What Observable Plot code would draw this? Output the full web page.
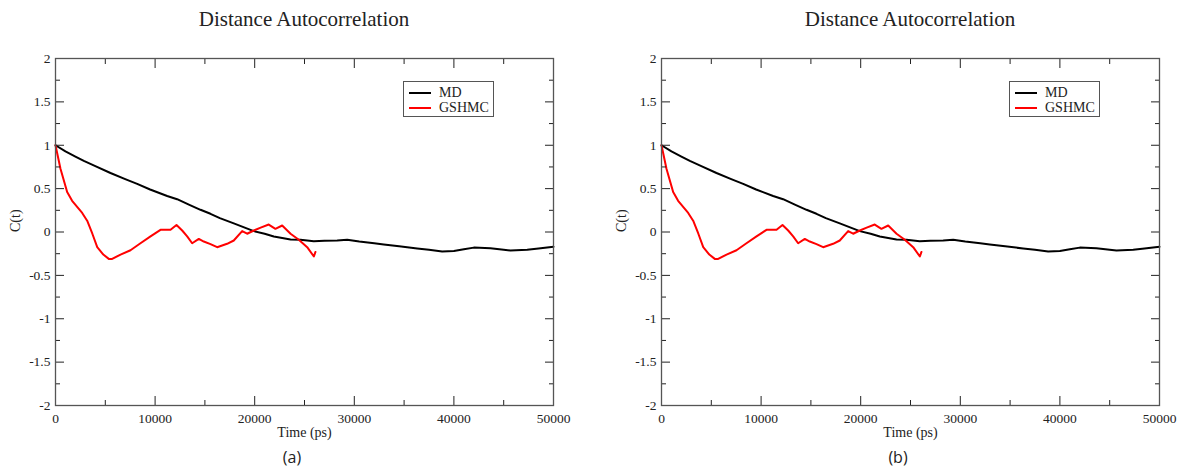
<!DOCTYPE html>
<html>
<head>
<meta charset="utf-8">
<script src="https://cdn.jsdelivr.net/npm/d3@7"></script>
<script src="https://cdn.jsdelivr.net/npm/@observablehq/plot@0.6"></script>
<style>
  html, body { margin: 0; padding: 0; background: #fff; }
  #root { position: relative; width: 1178px; height: 468px; overflow: hidden; }
  #root svg, #root svg text { font-family: "Liberation Serif", serif !important; }
  .title { position: absolute; width: 400px; text-align: center; font-family: "Liberation Serif", serif; font-size: 21px; line-height: 1; color: #222; }
  .panel { position: absolute; top: 40px; }
  .sub { position: absolute; width: 60px; text-align: center; font-family: "Open Sans", sans-serif; font-size: 16px; line-height: 1; color: #222; }
  .legend { position: absolute; box-sizing: border-box; width: 91px; height: 36px; border: 1px solid #555; background: #fff; font-family: "Liberation Serif", serif; font-size: 14px; color: #222; }
  .legend .sw { position: absolute; left: 5px; width: 22px; height: 2px; }
  .legend .lb { position: absolute; left: 35px; line-height: 1; }
</style>
</head>
<body>
<div id="root"></div>
<script>
// ---- data ----
const mdTime = [0, 1000, 2000, 2845, 4000, 5520, 7000, 8200, 9500, 11210, 12210, 13500, 14560, 15560, 16500, 17900, 19000, 19910, 21000, 21920, 23600, 24600, 25930, 27000, 28280, 29290, 30500, 32000, 32960, 34500, 36310, 37500, 38820, 40000, 41000, 42000, 43670, 45000, 45680, 47360, 48500, 50000];
const mdValue = [1.0, 0.93, 0.87, 0.82, 0.76, 0.68, 0.61, 0.555, 0.49, 0.415, 0.378, 0.31, 0.256, 0.21, 0.16, 0.10, 0.05, 0.01, -0.02, -0.052, -0.086, -0.09, -0.106, -0.10, -0.098, -0.09, -0.11, -0.13, -0.144, -0.165, -0.19, -0.205, -0.225, -0.22, -0.20, -0.18, -0.187, -0.205, -0.213, -0.205, -0.19, -0.17];
const gsTime = [0, 500, 1170, 1670, 2680, 3180, 3700, 4190, 4800, 5350, 5690, 6530, 7530, 8530, 9540, 10540, 11550, 12150, 12720, 13220, 13720, 14390, 14890, 15560, 16230, 17230, 17900, 18740, 19240, 19910, 20600, 21410, 22080, 22760, 23600, 24430, 25270, 25940, 26100];
const gsValue = [1.0, 0.73, 0.46, 0.36, 0.22, 0.13, -0.02, -0.175, -0.26, -0.31, -0.31, -0.26, -0.21, -0.13, -0.05, 0.025, 0.025, 0.08, 0.017, -0.05, -0.13, -0.08, -0.11, -0.14, -0.175, -0.136, -0.098, 0.01, -0.02, 0.017, 0.05, 0.086, 0.037, 0.075, -0.02, -0.09, -0.175, -0.282, -0.23];
const seriesNames = ["MD", "GSHMC"];
const seriesColors = ["#000000", "#ff0000"];
const xMajor = [0, 10000, 20000, 30000, 40000, 50000];
const xMinor = [5000, 15000, 25000, 35000, 45000];
const yMajor = [-2, -1.5, -1, -0.5, 0, 0.5, 1, 1.5, 2];
const yMinor = [-1.75, -1.25, -0.75, -0.25, 0.25, 0.75, 1.25, 1.75];
const titleText = "Distance Autocorrelation";
const xLabel = "Time (ps)";
const yLabel = "C(t)";
const panelLabels = ["(a)", "(b)"];

const md = mdTime.map((t, i) => ({t, v: mdValue[i], s: seriesNames[0]}));
const gs = gsTime.map((t, i) => ({t, v: gsValue[i], s: seriesNames[1]}));

const root = document.getElementById("root");
const W = 572, H = 401, ML = 55, MR = 19, MT = 18, MB = 36;
const panelLefts = [0, 606];
const FONT = "Liberation Serif";

function makePlot() {
  const tickStyle = {stroke: "#222", strokeWidth: 1};
  return Plot.plot({
    width: W, height: H,
    marginLeft: ML, marginRight: MR, marginTop: MT, marginBottom: MB,
    x: {domain: [0, 50000], label: null},
    y: {domain: [-2, 2], label: null},
    style: {fontFamily: FONT, fontSize: "13.5px", color: "#222", background: "transparent", overflow: "visible"},
    marks: [
      Plot.line(md, {x: "t", y: "v", stroke: seriesColors[0], strokeWidth: 2}),
      Plot.line(gs, {x: "t", y: "v", stroke: seriesColors[1], strokeWidth: 2}),
      // inward ticks on all four sides
      Plot.axisX({anchor: "bottom", ticks: xMajor, tickSize: -9, text: null, label: null, ...tickStyle}),
      Plot.axisX({anchor: "bottom", ticks: xMinor, tickSize: -5, text: null, label: null, ...tickStyle}),
      Plot.axisX({anchor: "top", ticks: xMajor, tickSize: -9, text: null, label: null, ...tickStyle}),
      Plot.axisX({anchor: "top", ticks: xMinor, tickSize: -5, text: null, label: null, ...tickStyle}),
      Plot.axisY({anchor: "left", ticks: yMajor, tickSize: -9, text: null, label: null, ...tickStyle}),
      Plot.axisY({anchor: "left", ticks: yMinor, tickSize: -5, text: null, label: null, ...tickStyle}),
      Plot.axisY({anchor: "right", ticks: yMajor, tickSize: -9, text: null, label: null, ...tickStyle}),
      Plot.axisY({anchor: "right", ticks: yMinor, tickSize: -5, text: null, label: null, ...tickStyle}),
      // tick labels
      Plot.axisX({anchor: "bottom", ticks: xMajor, tickSize: 0, tickPadding: 8, tickFormat: d => String(d), label: null, fontFamily: FONT}),
      Plot.axisY({anchor: "left", ticks: yMajor, tickSize: 0, tickPadding: 5, tickFormat: d => String(d), label: null, fontFamily: FONT}),
      Plot.frame({stroke: "#555", strokeWidth: 1.3}),
      Plot.text([xLabel], {frameAnchor: "bottom", dy: 31, fontSize: 14, fill: "#222", fontFamily: FONT}),
      Plot.text([yLabel], {frameAnchor: "left", dx: -40, rotate: -90, fontSize: 14, fill: "#222", fontFamily: FONT})
    ]
  });
}

panelLefts.forEach((left, k) => {
  const frameL = left + ML, frameR = left + W - MR;
  const cx = (frameL + frameR) / 2;

  const title = document.createElement("div");
  title.className = "title";
  title.textContent = titleText;
  title.style.left = (cx - 200) + "px";
  title.style.top = "9px";
  root.appendChild(title);

  const panel = document.createElement("div");
  panel.className = "panel";
  panel.style.left = left + "px";
  panel.appendChild(makePlot());
  root.appendChild(panel);

  const leg = document.createElement("div");
  leg.className = "legend";
  leg.style.left = (frameL + 348) + "px";
  leg.style.top = "81px";
  seriesNames.forEach((name, i) => {
    const sw = document.createElement("div");
    sw.className = "sw";
    sw.style.top = (10 + 15 * i) + "px";
    sw.style.background = seriesColors[i];
    leg.appendChild(sw);
    const lb = document.createElement("div");
    lb.className = "lb";
    lb.style.top = (4 + 15 * i) + "px";
    lb.textContent = name;
    leg.appendChild(lb);
  });
  root.appendChild(leg);

  const sub = document.createElement("div");
  sub.className = "sub";
  sub.textContent = panelLabels[k];
  sub.style.left = (cx - 12 - 30) + "px";
  sub.style.top = "449px";
  root.appendChild(sub);
});
</script>
</body>
</html>
